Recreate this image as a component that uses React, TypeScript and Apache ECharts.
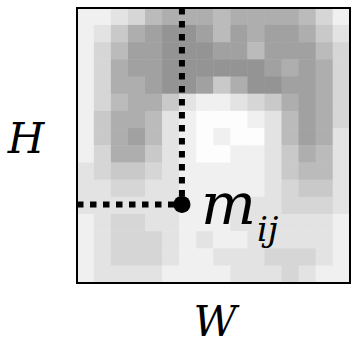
import React, { useEffect, useRef } from "react";
import * as echarts from "echarts";

// 16 x 16 grid of darkness values (0 = white, 9 = darkest gray), row 0 at the top
const gridCols = Array.from({ length: 16 }, (_, i) => String(i));
const gridRows = Array.from({ length: 16 }, (_, i) => String(i));
const intensity: number[][] = [
  [1, 1, 2, 3, 5, 6, 6, 6, 5, 6, 6, 6, 6, 5, 3, 1],
  [1, 2, 4, 6, 7, 8, 8, 7, 5, 7, 6, 7, 7, 6, 4, 2],
  [1, 3, 5, 7, 7, 8, 8, 8, 7, 7, 5, 7, 7, 7, 5, 3],
  [1, 3, 6, 7, 7, 8, 8, 8, 8, 8, 8, 7, 6, 7, 6, 3],
  [1, 3, 6, 6, 7, 8, 8, 7, 4, 6, 8, 8, 7, 7, 6, 3],
  [1, 3, 5, 6, 6, 4, 2, 1, 1, 2, 3, 4, 6, 7, 6, 3],
  [1, 4, 6, 6, 5, 2, 1, 0, 0, 0, 1, 2, 5, 7, 6, 3],
  [1, 4, 6, 7, 5, 2, 1, 0, 1, 0, 0, 2, 5, 7, 6, 2],
  [1, 3, 6, 6, 4, 2, 1, 0, 0, 1, 1, 2, 4, 6, 5, 2],
  [2, 3, 4, 4, 3, 2, 1, 1, 1, 1, 1, 2, 4, 5, 5, 2],
  [2, 2, 3, 3, 2, 2, 1, 1, 1, 1, 1, 2, 3, 4, 4, 2],
  [2, 2, 2, 2, 2, 2, 1, 1, 1, 2, 2, 2, 3, 3, 3, 2],
  [1, 2, 3, 3, 2, 2, 1, 1, 1, 2, 2, 2, 2, 2, 2, 1],
  [1, 2, 3, 3, 3, 2, 1, 2, 1, 1, 2, 2, 2, 2, 2, 1],
  [1, 2, 3, 3, 3, 2, 1, 1, 2, 2, 2, 3, 3, 3, 2, 1],
  [1, 2, 2, 2, 2, 1, 1, 1, 1, 2, 2, 2, 3, 2, 1, 1],
];

// marked position m_ij in grid units (x from left, y from top, 0..16)
const markerPoint: [number, number] = [6.15, 11.43];
const axisLabelH = "H";
const axisLabelW = "W";
const pointLabelMain = "m";
const pointLabelSub = "ij";

export default function App() {
  const ref = useRef<HTMLDivElement>(null);

  useEffect(() => {
    if (!ref.current) return;
    const chart = echarts.init(ref.current, undefined, { renderer: "svg" });

    const heatData: [number, number, number][] = [];
    intensity.forEach((row, r) =>
      row.forEach((v, c) => heatData.push([c, r, v]))
    );

    const [px, py] = markerPoint;
    const font = "DejaVu Serif";

    chart.setOption({
      animation: false,
      backgroundColor: "#ffffff",
      grid: { left: 77, top: 8, width: 273, height: 275, show: false },
      xAxis: [
        { type: "category", data: gridCols, show: false },
        { type: "value", min: 0, max: 16, show: false },
      ],
      yAxis: [
        { type: "category", data: gridRows, inverse: true, show: false },
        { type: "value", min: 0, max: 16, inverse: true, show: false },
      ],
      visualMap: {
        show: false,
        min: 0,
        max: 9,
        seriesIndex: 0,
        inRange: { color: ["#fdfdfd", "#878787"] },
      },
      series: [
        {
          type: "heatmap",
          xAxisIndex: 0,
          yAxisIndex: 0,
          data: heatData,
          silent: true,
        },
        {
          type: "line",
          xAxisIndex: 1,
          yAxisIndex: 1,
          data: [
            [px, 0],
            [px, py],
          ],
          symbol: "none",
          lineStyle: { color: "#000", width: 6, type: [6.5, 6.5], cap: "butt" },
          silent: true,
        },
        {
          type: "line",
          xAxisIndex: 1,
          yAxisIndex: 1,
          data: [
            [0, py],
            [px, py],
          ],
          symbol: "none",
          lineStyle: { color: "#000", width: 6, type: [6.5, 6.5], cap: "butt" },
          silent: true,
        },
        {
          type: "scatter",
          xAxisIndex: 1,
          yAxisIndex: 1,
          data: [[px, py]],
          symbol: "circle",
          symbolSize: 17,
          itemStyle: { color: "#000", opacity: 1 },
          silent: true,
          z: 5,
        },
      ],
      graphic: [
        {
          type: "rect",
          shape: { x: 77, y: 8, width: 273, height: 275 },
          style: { fill: "none", stroke: "#000", lineWidth: 2 },
          z: 100,
          silent: true,
        },
        {
          type: "text",
          x: 26,
          y: 138,
          style: {
            text: axisLabelH,
            font: `italic 42px '${font}'`,
            fill: "#000",
            align: "center",
            verticalAlign: "middle",
          },
          z: 100,
        },
        {
          type: "text",
          x: 215,
          y: 321,
          style: {
            text: axisLabelW,
            font: `italic 42px '${font}'`,
            fill: "#000",
            align: "center",
            verticalAlign: "middle",
          },
          z: 100,
        },
        {
          type: "text",
          x: 201,
          y: 204,
          style: {
            text: pointLabelMain,
            font: `italic 58px '${font}'`,
            fill: "#000",
            align: "left",
            verticalAlign: "middle",
          },
          z: 100,
        },
        {
          type: "text",
          x: 257,
          y: 229,
          style: {
            text: pointLabelSub,
            font: `italic 34px '${font}'`,
            fill: "#000",
            align: "left",
            verticalAlign: "middle",
          },
          z: 100,
        },
      ],
    });

    return () => chart.dispose();
  }, []);

  return (
    <div
      ref={ref}
      style={{ position: "absolute", left: 0, top: 0, width: 352, height: 345 }}
    />
  );
}
